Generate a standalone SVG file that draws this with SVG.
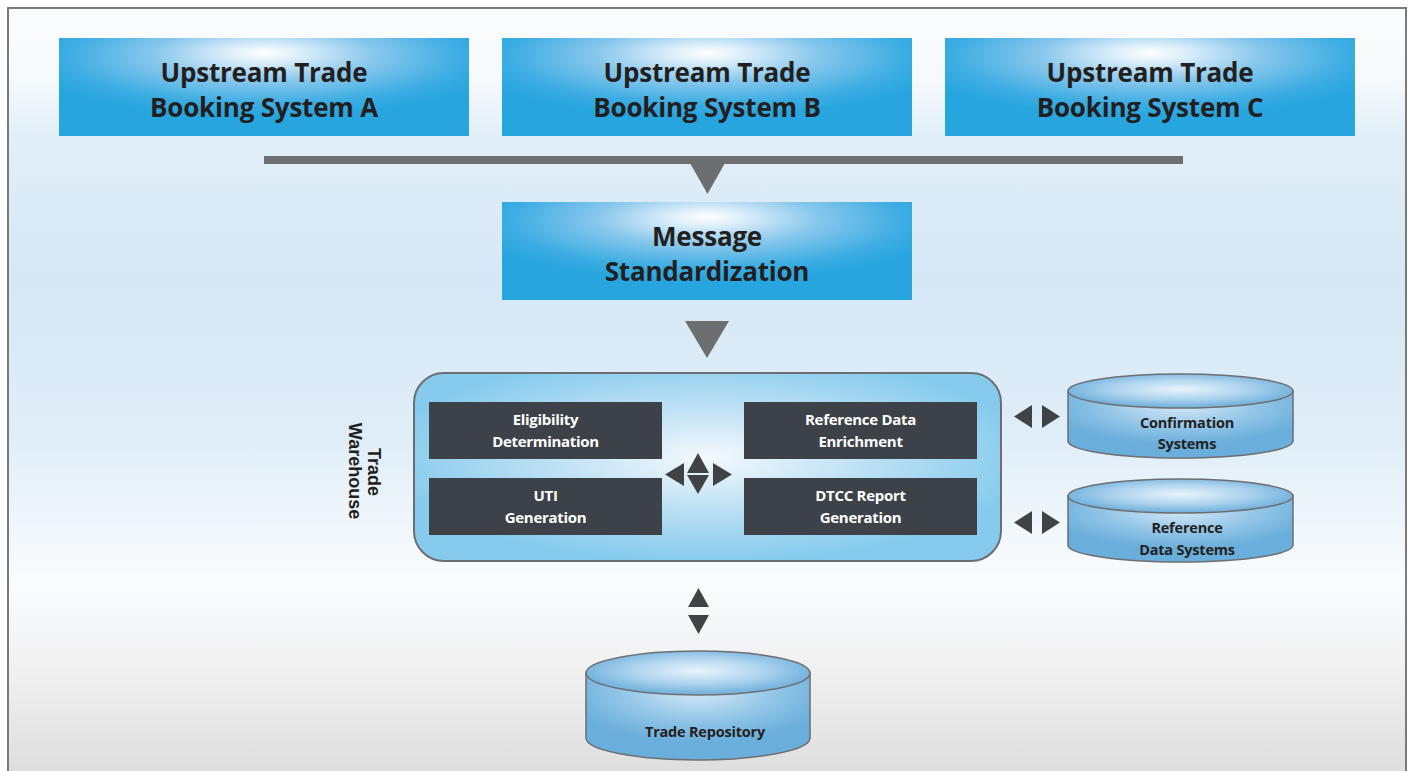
<svg xmlns="http://www.w3.org/2000/svg" width="1413" height="771" viewBox="0 0 1413 771">
<defs>
<linearGradient id="bg" x1="0" y1="0" x2="0" y2="1">
<stop offset="0" stop-color="#fbfcfd"/>
<stop offset="0.09" stop-color="#f6fafc"/>
<stop offset="0.17" stop-color="#e0eef8"/>
<stop offset="0.35" stop-color="#d6e8f6"/>
<stop offset="0.55" stop-color="#dfedf8"/>
<stop offset="0.74" stop-color="#fafcfd"/>
<stop offset="0.85" stop-color="#f1f1f2"/>
<stop offset="1" stop-color="#dcdcdd"/>
</linearGradient>
<radialGradient id="boxg" cx="0.5" cy="0.2" r="0.6" fx="0.5" fy="0.15">
<stop offset="0" stop-color="#ffffff"/>
<stop offset="0.15" stop-color="#dceefa"/>
<stop offset="0.45" stop-color="#88c7ec"/>
<stop offset="0.8" stop-color="#3dade3"/>
<stop offset="1" stop-color="#27a5df"/>
</radialGradient>
<radialGradient id="twg" cx="0.5" cy="0.45" r="0.55">
<stop offset="0" stop-color="#f4f9fd"/>
<stop offset="0.5" stop-color="#bce0f4"/>
<stop offset="1" stop-color="#86cbed"/>
</radialGradient>
<radialGradient id="cylTop" cx="0.5" cy="0.45" r="0.5">
<stop offset="0" stop-color="#eaf4fb"/>
<stop offset="0.6" stop-color="#acd3ee"/>
<stop offset="1" stop-color="#78b5df"/>
</radialGradient>
<radialGradient id="cylBody" cx="0.5" cy="0.2" r="0.6">
<stop offset="0" stop-color="#d9ebf7"/>
<stop offset="0.55" stop-color="#95c7e8"/>
<stop offset="1" stop-color="#6aaedb"/>
</radialGradient>
<style>
.hdr{font-family:"Open Sans","Noto Sans",sans-serif;font-weight:700;font-size:26px;fill:#231f20;text-anchor:middle;letter-spacing:-0.2px}
.dk{fill:#3d4248}
.dkt{font-family:"Open Sans","Noto Sans",sans-serif;font-weight:700;font-size:15px;fill:#ffffff;text-anchor:middle;letter-spacing:-0.3px}
.cylt{font-family:"Open Sans","Noto Sans",sans-serif;font-weight:700;font-size:14.5px;fill:#231f20;text-anchor:middle;letter-spacing:-0.2px}
.cyl{stroke:#6d6e70;stroke-width:1.5}
.arr{fill:#404346}
.gry{fill:#6d6e70}
.tw{font-family:"Liberation Sans",Arial,sans-serif;font-weight:700;font-size:18px;fill:#231f20;text-anchor:middle}
</style>
</defs>
<rect x="0" y="0" width="1413" height="771" fill="#ffffff"/>
<rect x="8" y="8" width="1398" height="775" fill="url(#bg)" stroke="#7a7a7a" stroke-width="2"/>

<g id="sysA">
<rect x="59" y="38" width="410" height="98" fill="url(#boxg)"/>
<text class="hdr" x="264" y="82">Upstream Trade</text>
<text class="hdr" x="264" y="117">Booking System A</text>
</g>
<g id="sysB">
<rect x="502" y="38" width="410" height="98" fill="url(#boxg)"/>
<text class="hdr" x="707" y="82">Upstream Trade</text>
<text class="hdr" x="707" y="117">Booking System B</text>
</g>
<g id="sysC">
<rect x="945" y="38" width="410" height="98" fill="url(#boxg)"/>
<text class="hdr" x="1150" y="82">Upstream Trade</text>
<text class="hdr" x="1150" y="117">Booking System C</text>
</g>
<g id="msg">
<rect x="502" y="202" width="410" height="98" fill="url(#boxg)"/>
<text class="hdr" x="707" y="246">Message</text>
<text class="hdr" x="707" y="281">Standardization</text>
</g>

<g id="warehouse">
<rect x="414" y="373" width="587" height="188" rx="30" ry="30" fill="url(#twg)" stroke="#6d6e70" stroke-width="2"/>
<text class="tw" transform="translate(368,472) rotate(90)">Trade</text>
<text class="tw" transform="translate(349,471) rotate(90)">Warehouse</text>
</g>
<g id="eligibility">
<rect class="dk" x="429" y="402" width="233" height="57"/>
<text class="dkt" x="545.5" y="425">Eligibility</text>
<text class="dkt" x="545.5" y="447">Determination</text>
</g>
<g id="refenrich">
<rect class="dk" x="744" y="402" width="233" height="57"/>
<text class="dkt" x="860.5" y="425">Reference Data</text>
<text class="dkt" x="860.5" y="447">Enrichment</text>
</g>
<g id="uti">
<rect class="dk" x="429" y="478" width="233" height="57"/>
<text class="dkt" x="545.5" y="501">UTI</text>
<text class="dkt" x="545.5" y="523">Generation</text>
</g>
<g id="dtcc">
<rect class="dk" x="744" y="478" width="233" height="57"/>
<text class="dkt" x="860.5" y="501">DTCC Report</text>
<text class="dkt" x="860.5" y="523">Generation</text>
</g>

<g id="confirmation">
<path class="cyl" d="M1068,391 L1068,441 A112.5,17 0 0 0 1293,441 L1293,391 Z" fill="url(#cylBody)"/>
<ellipse class="cyl" cx="1180.5" cy="391" rx="112.5" ry="17" fill="url(#cylTop)"/>
<text class="cylt" x="1187" y="428">Confirmation</text>
<text class="cylt" x="1187" y="449">Systems</text>
</g>
<g id="refdata">
<path class="cyl" d="M1068,496 L1068,545 A112.5,17 0 0 0 1293,545 L1293,496 Z" fill="url(#cylBody)"/>
<ellipse class="cyl" cx="1180.5" cy="496" rx="112.5" ry="17" fill="url(#cylTop)"/>
<text class="cylt" x="1187" y="533">Reference</text>
<text class="cylt" x="1187" y="555">Data Systems</text>
</g>
<g id="repository">
<path class="cyl" d="M586,673 L586,738 A112,22 0 0 0 810,738 L810,673 Z" fill="url(#cylBody)"/>
<ellipse class="cyl" cx="698" cy="673" rx="112" ry="22" fill="url(#cylTop)"/>
<text class="cylt" x="705" y="737">Trade Repository</text>
</g>

<g id="connectors">
<rect class="gry" x="264" y="156" width="919" height="8"/>
<polygon class="gry" points="690,163 725,163 707.5,194"/>
<polygon class="gry" points="685,321 729,321 707,358"/>
<polygon class="arr" points="684,463 684,486 665,474.5"/>
<polygon class="arr" points="687,473 709,473 698,453"/>
<polygon class="arr" points="687,475 709,475 698,494"/>
<polygon class="arr" points="713,463 713,486 732,474.5"/>
<polygon class="arr" points="1032,405 1032,428 1014,416.5"/>
<polygon class="arr" points="1042,405 1042,428 1060,416.5"/>
<polygon class="arr" points="1032,511 1032,534 1014,522.5"/>
<polygon class="arr" points="1042,511 1042,534 1060,522.5"/>
<polygon class="arr" points="688,607 709,607 698.5,588"/>
<polygon class="arr" points="688,615 709,615 698.5,634"/>
</g>
</svg>
